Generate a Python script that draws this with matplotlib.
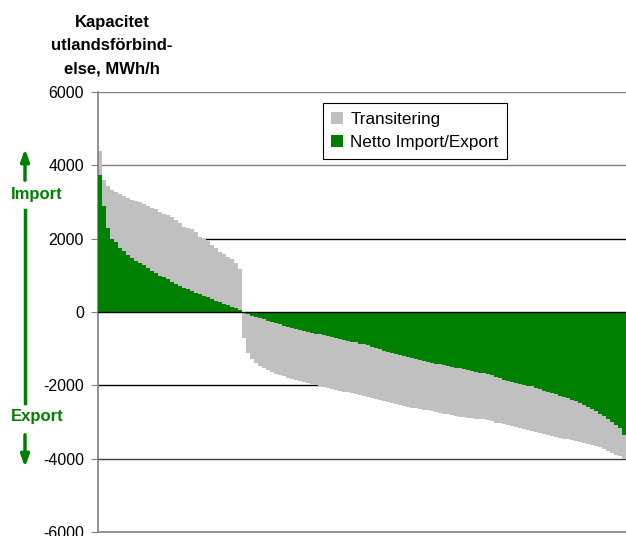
import matplotlib.pyplot as plt
import numpy as np
from matplotlib.patches import Patch

plt.rcParams['font.family'] = ['Liberation Sans', 'DejaVu Sans']
plt.rcParams['axes.unicode_minus'] = False

# netto import (+) / export (-), sorted, MWh/h
netto_import = [3750, 2900, 2300, 2000, 1900, 1750, 1670, 1560, 1460, 1380,
                1330, 1270, 1200, 1130, 1070, 990, 950, 890, 820, 760,
                700, 660, 620, 570, 530, 490, 440, 400, 350, 310,
                270, 230, 190, 150, 100, 50]
netto_export = [-20, -60, -100, -140, -165, -190, -240, -280, -310, -340,
                -375, -405, -430, -460, -490, -515, -545, -565, -590, -610,
                -630, -660, -690, -715, -745, -765, -785, -805, -825, -860,
                -885, -900, -950, -990, -1020, -1050, -1085, -1115, -1140, -1170,
                -1195, -1225, -1250, -1275, -1305, -1335, -1360, -1385, -1405, -1425,
                -1450, -1470, -1495, -1515, -1535, -1560, -1580, -1600, -1625, -1650,
                -1675, -1690, -1730, -1775, -1810, -1845, -1880, -1915, -1945, -1965,
                -1985, -2005, -2030, -2070, -2110, -2150, -2185, -2215, -2245, -2280,
                -2315, -2355, -2395, -2440, -2490, -2540, -2590, -2645, -2705, -2770,
                -2835, -2910, -2990, -3080, -3170, -3350]

# outer edge of transit (netto + transitering)
kant_import = [4400, 3600, 3450, 3330, 3260, 3210, 3170, 3110, 3060, 3020,
               2990, 2940, 2880, 2850, 2820, 2740, 2680, 2640, 2590, 2510,
               2420, 2330, 2290, 2260, 2180, 2050, 1990, 1930, 1820, 1740,
               1650, 1580, 1510, 1440, 1330, 1180]
kant_export = [-700, -1130, -1280, -1390, -1460, -1540, -1590, -1630, -1680, -1718,
               -1750, -1790, -1830, -1855, -1880, -1910, -1935, -1965, -1995, -2025,
               -2055, -2080, -2105, -2125, -2145, -2170, -2190, -2215, -2235, -2270,
               -2295, -2310, -2335, -2375, -2400, -2430, -2455, -2485, -2510, -2535,
               -2555, -2585, -2610, -2630, -2645, -2665, -2680, -2700, -2725, -2750,
               -2770, -2790, -2810, -2830, -2855, -2870, -2885, -2895, -2905, -2918,
               -2925, -2940, -2965, -3015, -3040, -3060, -3090, -3120, -3140, -3165,
               -3185, -3210, -3235, -3270, -3300, -3335, -3360, -3385, -3405, -3430,
               -3450, -3470, -3495, -3515, -3536, -3560, -3590, -3615, -3650, -3690,
               -3735, -3780, -3835, -3890, -3930, -4010]

netto = np.array(netto_import + netto_export)
kant = np.array(kant_import + kant_export)
n = len(netto)
edges = np.arange(n + 1)

gron = '#008000'
gra = '#C0C0C0'

fig = plt.figure(figsize=(6.26, 5.36), dpi=100)
ax = fig.add_axes([98/626, 4/536, 528/626, 440/536])

grid_col = {6000: '#808080', 4000: '#808080', 2000: 'black', -2000: 'black', -4000: '#404040'}
for yv, c in grid_col.items():
    ax.axhline(yv, color=c, lw=1, zorder=0)

ax.stairs(kant, edges, baseline=netto, fill=True, color=gra, lw=0, zorder=2)
ax.stairs(netto, edges, baseline=0, fill=True, color=gron, lw=0, zorder=3)
ax.axhline(0, color='black', lw=1, zorder=4)

ax.set_xlim(0, n)
ax.set_ylim(-6000, 6000)
ax.set_yticks(range(-6000, 6001, 2000))
ax.set_xticks([])
for s in ['top', 'right']:
    ax.spines[s].set_visible(False)
for s in ['left', 'bottom']:
    ax.spines[s].set_color('#808080')
    ax.spines[s].set_linewidth(1.2)
ax.tick_params(axis='y', length=5, color='#808080', labelsize=11.5, pad=5)

fig.text(112/626, 1 - 46/536, 'Kapacitet\nutlandsförbind-\nelse, MWh/h', ha='center', va='center',
         fontsize=12, fontweight='bold', linespacing=1.7)

# import / export pilar
ax.annotate('', xy=(25/626, 1 - 146/536), xytext=(25/626, 1 - 183/536), xycoords='figure fraction',
            arrowprops=dict(arrowstyle='-|>,head_width=0.25,head_length=0.7', color=gron, lw=2.5))
fig.add_artist(plt.Line2D([25/626, 25/626], [1 - 210/536, 1 - 403/536], color=gron, lw=2.5))
ax.annotate('', xy=(25/626, 1 - 470/536), xytext=(25/626, 1 - 432/536), xycoords='figure fraction',
            arrowprops=dict(arrowstyle='-|>,head_width=0.25,head_length=0.7', color=gron, lw=2.5))
fig.text(37/626, 1 - 194/536, 'Import', ha='center', va='center', color=gron, fontsize=12, fontweight='bold')
fig.text(37/626, 1 - 416/536, 'Export', ha='center', va='center', color=gron, fontsize=12, fontweight='bold')

handles = [Patch(facecolor=gra, label='Transitering'), Patch(facecolor=gron, label='Netto Import/Export')]
leg = ax.legend(handles=handles, loc='upper left', bbox_to_anchor=(0.426, 0.975), borderaxespad=0,
                fontsize=12.3, fancybox=False, edgecolor='black', framealpha=1,
                handlelength=0.7, handleheight=0.7, handletextpad=0.4, labelspacing=0.5, borderpad=0.5)
leg.get_frame().set_linewidth(0.8)

fig.savefig('out.png', dpi=100)
